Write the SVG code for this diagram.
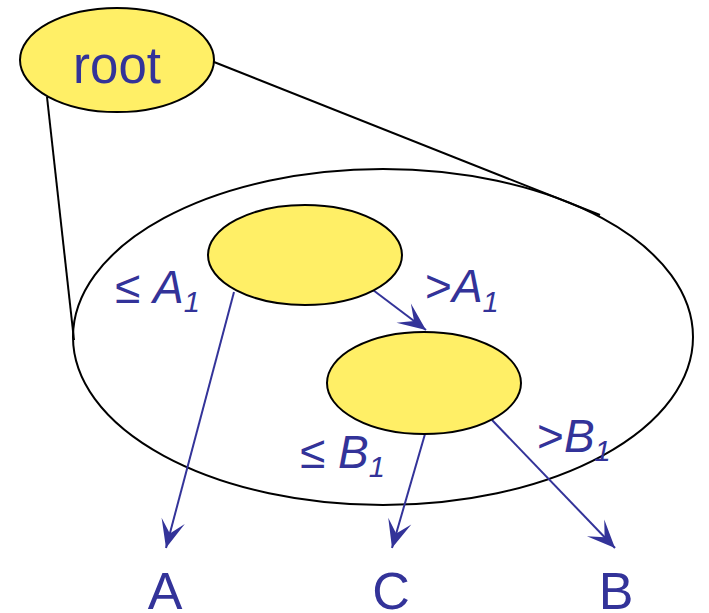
<svg xmlns="http://www.w3.org/2000/svg" width="709" height="613" viewBox="0 0 709 613">
<style>
.node{fill:#FFEF66;stroke:#000;stroke-width:2}
.outline{fill:none;stroke:#000;stroke-width:2}
.edge{stroke:#333399;stroke-width:2;fill:none}
.lbl{font-family:"Liberation Sans",Arial,sans-serif;fill:#333399}
.it{font-style:italic}
</style>
<defs>
<marker id="ah" markerUnits="userSpaceOnUse" viewBox="-30 -15 32 30" refX="0" refY="0" markerWidth="32" markerHeight="30" orient="auto">
<path d="M0,0 L-28,-12 L-15,0 L-28,12 Z" fill="#333399"/>
</marker>
</defs>
<g id="subtree">
<ellipse class="outline" cx="383" cy="337" rx="310" ry="168"/>
</g>
<g id="connectors">
<line class="outline" x1="47" y1="97" x2="74" y2="340"/>
<line class="outline" x1="214" y1="62" x2="600" y2="215"/>
<line class="edge" x1="234" y1="292" x2="166" y2="548" marker-end="url(#ah)"/>
<line class="edge" x1="373" y1="290" x2="426" y2="330" marker-end="url(#ah)"/>
<line class="edge" x1="425" y1="434" x2="392" y2="548" marker-end="url(#ah)"/>
<line class="edge" x1="492" y1="420" x2="615" y2="548" marker-end="url(#ah)"/>
</g>
<g id="root">
<ellipse class="node" cx="117" cy="60" rx="97" ry="52"/>
<text class="lbl" x="117" y="83" font-size="51" text-anchor="middle">root</text>
</g>
<g id="n1">
<ellipse class="node" cx="305" cy="255" rx="97" ry="50"/>
</g>
<g id="n2">
<ellipse class="node" cx="424" cy="383" rx="97" ry="51"/>
</g>
<g id="labels">
<text class="lbl" x="115" y="303" font-size="46">≤ <tspan class="it">A</tspan><tspan class="it" font-size="29" dy="9">1</tspan></text>
<text class="lbl" x="425" y="302" font-size="46">&gt;<tspan class="it">A</tspan><tspan class="it" font-size="29" dy="10">1</tspan></text>
<text class="lbl" x="300" y="468" font-size="46">≤ <tspan class="it">B</tspan><tspan class="it" font-size="29" dy="9">1</tspan></text>
<text class="lbl" x="537" y="452" font-size="46">&gt;<tspan class="it">B</tspan><tspan class="it" font-size="29" dy="9">1</tspan></text>
<text class="lbl" x="165" y="609" font-size="52" text-anchor="middle">A</text>
<text class="lbl" x="391" y="609" font-size="52" text-anchor="middle">C</text>
<text class="lbl" x="616" y="609" font-size="52" text-anchor="middle">B</text>
</g>
</svg>
